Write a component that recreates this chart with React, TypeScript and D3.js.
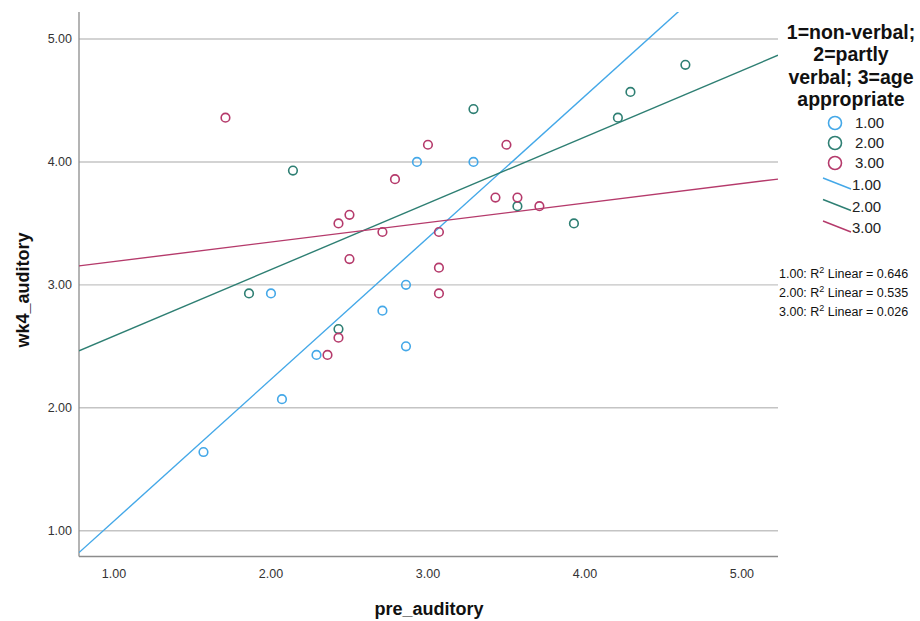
import React from "react";
import * as d3 from "d3";

// ---- data ----
const groupLabels = ["1.00", "2.00", "3.00"];
const groupColors = ["#44a8e8", "#2e7f73", "#b53a6b"];

const g1X = [1.57, 2.07, 2.0, 2.29, 2.71, 2.86, 2.86, 2.93, 3.29];
const g1Y = [1.64, 2.07, 2.93, 2.43, 2.79, 3.0, 2.5, 4.0, 4.0];

const g2X = [1.86, 2.14, 2.43, 3.29, 3.57, 3.93, 4.21, 4.29, 4.64];
const g2Y = [2.93, 3.93, 2.64, 4.43, 3.64, 3.5, 4.36, 4.57, 4.79];

const g3X = [1.71, 2.43, 2.5, 2.5, 2.36, 2.43, 2.71, 2.79, 3.0, 3.07, 3.07, 3.07, 3.43, 3.5, 3.57, 3.71];
const g3Y = [4.36, 3.5, 3.57, 3.21, 2.43, 2.57, 3.43, 3.86, 4.14, 3.43, 3.14, 2.93, 3.71, 4.14, 3.71, 3.64];

const xTicks = [1, 2, 3, 4, 5];
const yTicks = [1, 2, 3, 4, 5];
const r2Labels = ["0.646", "0.535", "0.026"];
const legendTitle = ["1=non-verbal;", "2=partly", "verbal; 3=age", "appropriate"];

const groupsX = [g1X, g2X, g3X];
const groupsY = [g1Y, g2Y, g3Y];

function fit(xs: number[], ys: number[]) {
  const mx = d3.mean(xs) as number;
  const my = d3.mean(ys) as number;
  let sxy = 0, sxx = 0;
  xs.forEach((x, i) => {
    sxy += (x - mx) * (ys[i] - my);
    sxx += (x - mx) * (x - mx);
  });
  const b = sxy / sxx;
  return { b, a: my - b * mx };
}

export default function App() {
  const W = 920, H = 621;
  const left = 79, right = 778, top = 12, bottom = 556.5;
  const x = d3.scaleLinear().domain([0.777, 5.23]).range([left, right]);
  const y = d3.scaleLinear().domain([0.79, 5.22]).range([bottom, top]);
  const font = "'Liberation Sans', Arial, sans-serif";
  const line = d3.line<[number, number]>().x(d => x(d[0])).y(d => y(d[1]));
  const [x0, x1] = x.domain();

  return (
    <svg width={W} height={H} style={{ position: "absolute", left: 0, top: 0, background: "#fff" }} fontFamily={font}>
      <defs>
        <clipPath id="plot">
          <rect x={left} y={top} width={right - left} height={bottom - top} />
        </clipPath>
      </defs>
      {/* gridlines */}
      {yTicks.map(t => (
        <line key={"g" + t} x1={left} x2={right} y1={y(t)} y2={y(t)} stroke="#c4c4c4" strokeWidth={1.4} />
      ))}
      {/* axes */}
      <line x1={left} x2={left} y1={top} y2={bottom} stroke="#8c8c8c" strokeWidth={1.3} />
      <line x1={left} x2={right} y1={bottom} y2={bottom} stroke="#8c8c8c" strokeWidth={1.3} />
      {/* tick labels */}
      {yTicks.map(t => (
        <text key={"yt" + t} x={72} y={y(t)} dy="0.35em" textAnchor="end" fontSize={12.5} fill="#333">
          {t.toFixed(2)}
        </text>
      ))}
      {xTicks.map(t => (
        <text key={"xt" + t} x={x(t)} y={578} textAnchor="middle" fontSize={12.5} fill="#333">
          {t.toFixed(2)}
        </text>
      ))}
      {/* axis titles */}
      <text x={429} y={615} textAnchor="middle" fontSize={18} fontWeight="bold" fill="#111">pre_auditory</text>
      <text transform="translate(29,290) rotate(-90)" textAnchor="middle" fontSize={18} fontWeight="bold" fill="#111">wk4_auditory</text>
      {/* fit lines */}
      <g clipPath="url(#plot)">
        {groupsX.map((xs, i) => {
          const { a, b } = fit(xs, groupsY[i]);
          return (
            <path key={"fl" + i} d={line([[x0, a + b * x0], [x1, a + b * x1]]) as string}
              stroke={groupColors[i]} strokeWidth={1.4} fill="none" />
          );
        })}
      </g>
      {/* points */}
      {groupsX.map((xs, i) =>
        xs.map((v, j) => (
          <circle key={`p${i}-${j}`} cx={x(v)} cy={y(groupsY[i][j])} r={4.3}
            fill="none" stroke={groupColors[i]} strokeWidth={1.6} />
        ))
      )}
      {/* legend */}
      {legendTitle.map((s, i) => (
        <text key={"lt" + i} x={851} y={39 + i * 22.3} textAnchor="middle" fontSize={19.5} fontWeight="bold" fill="#111">{s}</text>
      ))}
      {groupLabels.map((g, i) => (
        <g key={"lc" + i}>
          <circle cx={835} cy={123 + i * 20} r={6.5} fill="none" stroke={groupColors[i]} strokeWidth={1.6} />
          <text x={855} y={123 + i * 20} dy="0.35em" fontSize={15} fill="#222">{g}</text>
        </g>
      ))}
      {groupLabels.map((g, i) => (
        <g key={"ll" + i}>
          <line x1={823} y1={178 + i * 21.5} x2={851} y2={189 + i * 21.5} stroke={groupColors[i]} strokeWidth={1.4} />
          <text x={852} y={185 + i * 21.5} dy="0.35em" fontSize={15} fill="#222">{g}</text>
        </g>
      ))}
      {/* R² annotations */}
      {groupLabels.map((g, i) => (
        <text key={"r2" + i} x={779} y={274 + i * 19} dy="0.35em" fontSize={12.5} fill="#111">
          {g}: R<tspan dy="-5" fontSize={9}>2</tspan><tspan dy="5"> Linear = {r2Labels[i]}</tspan>
        </text>
      ))}
    </svg>
  );
}
